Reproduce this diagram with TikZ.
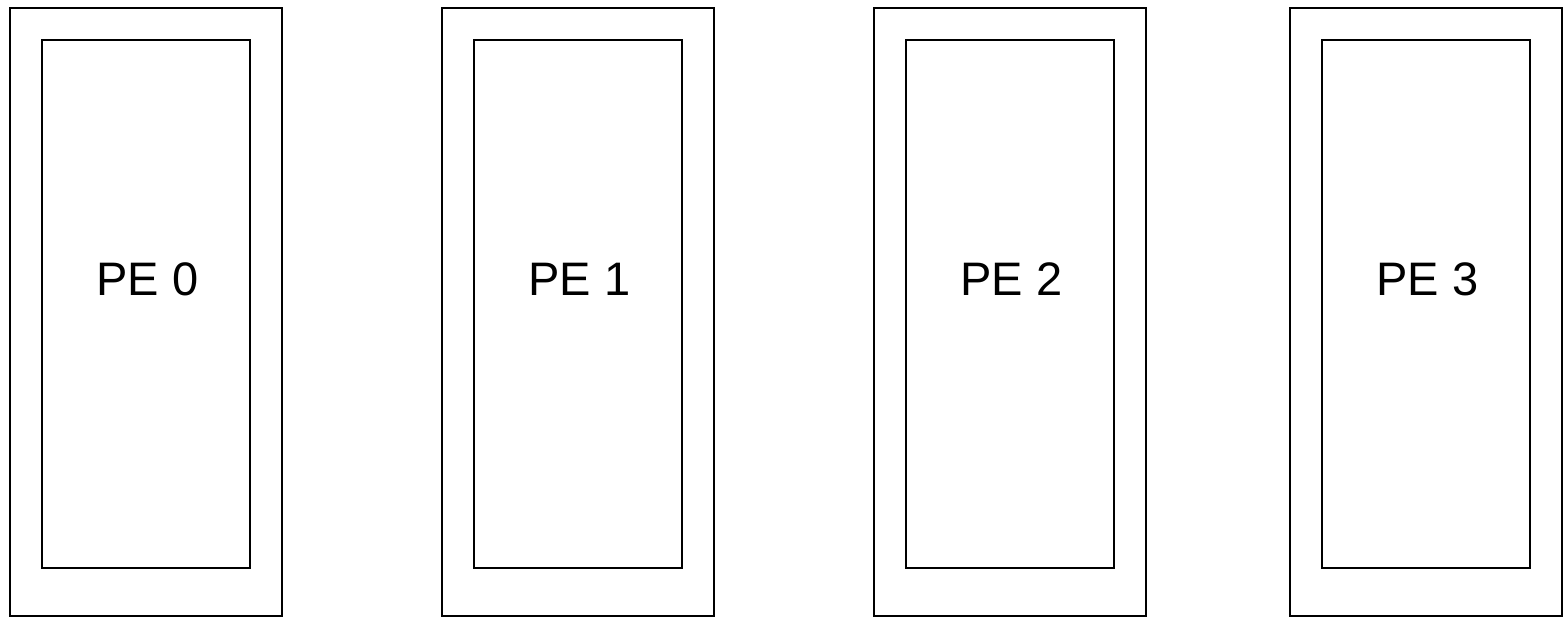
\documentclass[tikz,border=0pt]{standalone}
\usepackage{fontspec}
\setmainfont{Liberation Sans}
\begin{document}
\begin{tikzpicture}[x=0.5pt,y=-0.5pt,
  outerbox/.style={draw=black,line width=0.8pt,fill=white},
  innerbox/.style={draw=black,line width=0.8pt},
  pelabel/.style={font=\fontsize{23.5}{28}\selectfont,inner sep=0pt,anchor=base}]
\useasboundingbox (0,0) rectangle (1565,617);
\foreach \i/\x in {0/10,1/442,2/874,3/1290}{
  \draw[outerbox] (\x,8) rectangle ++(272,608);
  \draw[innerbox] (\x+32,40) rectangle ++(208,528);
  \node[pelabel] (pe\i) at (\x+137.5,295.5) {PE \i};
}
\end{tikzpicture}
\end{document}
